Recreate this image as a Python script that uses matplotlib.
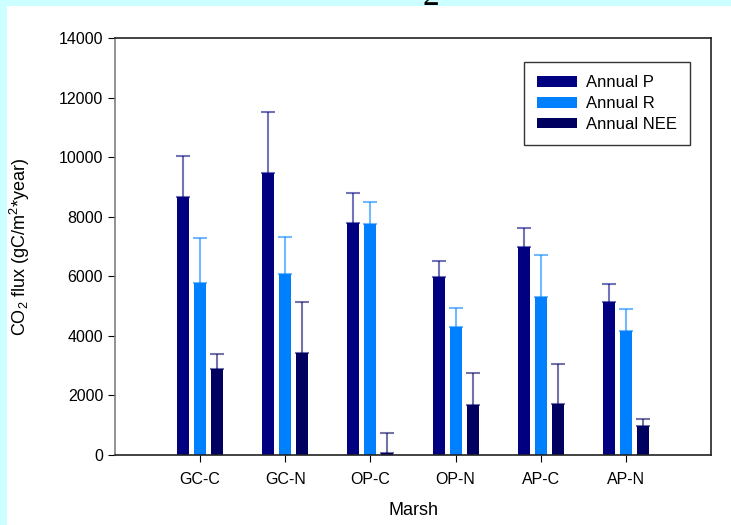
import numpy as np
import matplotlib
matplotlib.use("Agg")
import matplotlib.pyplot as plt
from matplotlib.patches import Rectangle

plt.rcParams['font.family'] = ['Liberation Sans', 'DejaVu Sans']
plt.rcParams['mathtext.fontset'] = 'custom'
plt.rcParams['mathtext.rm'] = 'Liberation Sans'
plt.rcParams['mathtext.it'] = 'Liberation Sans:italic'

# data
marshes = ['GC-C', 'GC-N', 'OP-C', 'OP-N', 'AP-C', 'AP-N']
annual_p = [8660, 9480, 7800, 5980, 6980, 5130]
annual_p_err = [1380, 2020, 1000, 520, 640, 620]
annual_r = [5780, 6080, 7750, 4300, 5300, 4160]
annual_r_err = [1520, 1240, 730, 650, 1400, 740]
annual_nee = [2880, 3420, 60, 1680, 1700, 960]
annual_nee_err = [520, 1700, 690, 1070, 1360, 260]

series = [
    ('Annual P', annual_p, annual_p_err, '#000080', -0.2),
    ('Annual R', annual_r, annual_r_err, '#0080FF', 0.0),
    ('Annual NEE', annual_nee, annual_nee_err, '#000060', 0.2),
]

fig = plt.figure(figsize=(7.31, 5.25), dpi=100)
fig.patch.set_facecolor('#CCFFFF')
# white slide panel behind the chart
panel = Rectangle((7 / 731, 0), 1, 1 - 6 / 525, transform=fig.transFigure,
                  facecolor='white', edgecolor='none', zorder=-10)
fig.add_artist(panel)
# subscript left over from a clipped title above the figure
fig.text(431 / 731, 1 - 5 / 525, '2', ha='center', va='baseline', fontsize=24,
         family='Liberation Serif')

ax = fig.add_axes([115 / 731, 1 - 455 / 525, 596 / 731, 417 / 525])
x = np.arange(1, len(marshes) + 1)
for label, vals, errs, color, off in series:
    ax.bar(x + off, vals, width=0.14, color=color, label=label, zorder=2)
    ax.errorbar(x + off, vals, yerr=[np.zeros(len(errs)), errs], fmt='none',
                ecolor=color, alpha=0.55, elinewidth=1.5, capsize=5, capthick=1.5, zorder=1)

ax.set_xlim(0, 7)
ax.set_ylim(0, 14000)
ax.set_yticks(np.arange(0, 14001, 2000))
ax.set_xticks(x)
ax.set_xticklabels(marshes)
ax.tick_params(direction='out', length=5, labelsize=11.5)
ax.tick_params(axis='x', pad=7)
for s in ax.spines.values():
    s.set_linewidth(1.2)
    s.set_color('#222222')
ax.spines['left'].set_color('#808080')
ax.set_xlabel('Marsh', fontsize=13, labelpad=11)
ax.set_ylabel('CO$_2$ flux (gC/m$^2$*year)', fontsize=13, labelpad=19)

leg = ax.legend(loc='upper right', bbox_to_anchor=(690 / 731, 1 - 62 / 525),
                bbox_transform=fig.transFigure, fontsize=12, fancybox=False,
                edgecolor='#333333', framealpha=1, handlelength=2.4, handleheight=0.6,
                handletextpad=0.5, borderpad=0.8, labelspacing=0.35, borderaxespad=0)
leg.get_frame().set_linewidth(1.0)

fig.savefig('out.png', dpi=100, facecolor=fig.get_facecolor())
